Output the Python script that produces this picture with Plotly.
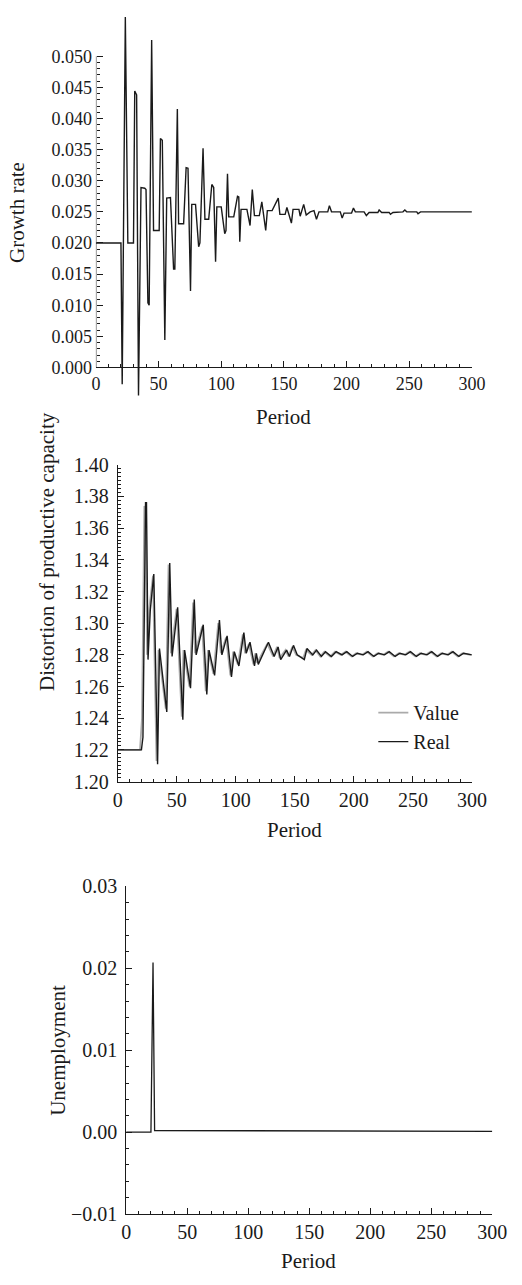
import plotly.graph_objects as go

W, H = 522, 1285
FONT = "Liberation Serif"
INK = "#1a1a1a"

# ---------------- data ----------------
growth_period = [0, 20, 21, 23.5, 25.5, 30, 31, 32.5, 34, 36, 39, 40, 41.5, 42.5, 44.5, 46, 50.5, 51.5, 53, 55,
                 56.5, 59.5, 62, 63, 65, 66, 70, 72, 73.5, 75.5, 76.5, 79.5, 82, 83, 85.5, 87, 90, 92.5, 94,
                 95.5, 96.5, 100, 102.8, 103.8, 105, 106, 110, 113, 114, 114.8, 115.8, 120.5, 123, 124.8,
                 126.5, 130.4, 132.4, 135.5, 136.8, 140.6, 145.5, 146.8, 151, 152.4, 156, 157.3, 162, 163,
                 165.8, 167.8, 171, 174, 176, 178, 185, 186.3, 188, 195, 196.5, 198, 204, 205.5, 207, 214,
                 215.8, 218, 225, 226, 228, 234, 235, 237, 245, 246.5, 248, 256, 257, 259, 300]
growth_rate = [0.020, 0.020, -0.0027, 0.0563, 0.020, 0.020, 0.0444, 0.0438, -0.0045, 0.0289, 0.0288, 0.0286,
               0.0104, 0.0100, 0.0526, 0.0220, 0.0220, 0.0368, 0.0365, 0.0044, 0.0272, 0.0273, 0.0158,
               0.0158, 0.0415, 0.0231, 0.0231, 0.0321, 0.0320, 0.0123, 0.0262, 0.0262, 0.0194, 0.0200,
               0.0352, 0.0238, 0.0238, 0.0294, 0.0289, 0.0170, 0.0258, 0.0258, 0.0215, 0.0220, 0.0311,
               0.0242, 0.0242, 0.0275, 0.0274, 0.0202, 0.0254, 0.0254, 0.0228, 0.0286, 0.0244, 0.0244,
               0.0266, 0.0220, 0.0252, 0.0252, 0.0272, 0.0246, 0.0246, 0.0257, 0.0232, 0.0254, 0.0254,
               0.0243, 0.0262, 0.0245, 0.0250, 0.0252, 0.0238, 0.0250, 0.0250, 0.0260, 0.0250, 0.0250,
               0.0240, 0.0248, 0.0248, 0.0256, 0.0250, 0.0250, 0.0244, 0.0249, 0.0249, 0.0253, 0.0249,
               0.0249, 0.0246, 0.0249, 0.0250, 0.0253, 0.0250, 0.0250, 0.0247, 0.0250, 0.0250]

real_period = [0, 20, 21.3, 23.5, 24.3, 25.6, 27.5, 30.5, 33.7, 35.3, 41.5, 44, 46, 50.7, 55.1, 56.6, 61.6,
               64.8, 66.4, 72.4, 75.4, 77.3, 82, 86.1, 88.2, 92.6, 96.3, 98.7, 102.6, 106.8, 108.8, 112,
               115.8, 117.4, 119, 127.6, 132.5, 135.8, 138, 143, 145.5, 148.8, 152, 158, 160.3, 165.2,
               168.4, 172.5, 176, 181, 185, 190, 194, 199, 203, 208, 212, 217, 221, 226, 230, 235, 239,
               244, 248, 253, 257, 262, 266, 271, 275, 280, 284, 289, 293, 300]
real_distortion = [1.220, 1.220, 1.228, 1.376, 1.376, 1.277, 1.308, 1.331, 1.211, 1.284, 1.244, 1.338, 1.279,
                   1.310, 1.239, 1.283, 1.259, 1.315, 1.280, 1.299, 1.255, 1.283, 1.267, 1.302, 1.280,
                   1.292, 1.266, 1.282, 1.273, 1.294, 1.281, 1.288, 1.273, 1.281, 1.274, 1.288, 1.279,
                   1.285, 1.277, 1.283, 1.279, 1.286, 1.280, 1.277, 1.284, 1.280, 1.283, 1.279, 1.282,
                   1.279, 1.282, 1.280, 1.282, 1.279, 1.281, 1.280, 1.282, 1.279, 1.281, 1.280, 1.282,
                   1.279, 1.281, 1.280, 1.282, 1.279, 1.281, 1.280, 1.282, 1.279, 1.281, 1.280, 1.282,
                   1.279, 1.281, 1.280]

value_period = [0, 18.8, 20.5, 22.5, 23.5, 24.8, 26.8, 29.8, 32.8, 34.5, 40.6, 43, 45, 49.8, 54.2, 55.6, 60.7,
                63.8, 65.5, 71.4, 74.5, 76.4, 81, 85.1, 87.3, 91.7, 95.4, 97.8, 101.7, 105.9, 107.9, 111.1,
                114.9, 116.5, 118.1, 126.7, 131.6, 134.9, 137.1, 142.1, 144.6, 147.9, 151.1, 157.1, 159.4,
                164.3, 167.5, 171.6, 175, 180, 184, 189, 193, 198, 202, 207, 211, 216, 220, 225, 229, 234,
                238, 243, 247, 252, 256, 261, 265, 270, 274, 279, 283, 288, 292, 299]
value_distortion = [1.220, 1.220, 1.240, 1.374, 1.372, 1.280, 1.310, 1.330, 1.213, 1.283, 1.246, 1.337,
                    1.281, 1.309, 1.241, 1.283, 1.260, 1.313, 1.281, 1.298, 1.257, 1.283, 1.268, 1.300,
                    1.281, 1.291, 1.267, 1.282, 1.274, 1.293, 1.281, 1.287, 1.274, 1.281, 1.275, 1.287,
                    1.279, 1.285, 1.278, 1.283, 1.279, 1.285, 1.280, 1.278, 1.283, 1.280, 1.283, 1.279,
                    1.282, 1.279, 1.282, 1.280, 1.282, 1.279, 1.281, 1.280, 1.282, 1.279, 1.281, 1.280,
                    1.282, 1.279, 1.281, 1.280, 1.282, 1.279, 1.281, 1.280, 1.282, 1.279, 1.281, 1.280,
                    1.282, 1.279, 1.281, 1.280]

unemp_period = [0, 20.3, 22, 23.3, 300]
unemployment = [0.0, 0.0, 0.0207, 0.0002, 0.0001]

growth_ticks = [0.000, 0.005, 0.010, 0.015, 0.020, 0.025, 0.030, 0.035, 0.040, 0.045, 0.050]
distortion_ticks = [1.20, 1.22, 1.24, 1.26, 1.28, 1.30, 1.32, 1.34, 1.36, 1.38, 1.40]
unemp_ticks = [-0.01, 0.00, 0.01, 0.02, 0.03]
period_ticks = [0, 50, 100, 150, 200, 250, 300]


# ---------------- layout helpers ----------------
def xdom(p0, p1):
    return [p0 / W, p1 / W]


def ydom(lo, hi, va, pa, vb, pb):
    s = (pa - pb) / (vb - va)
    plo = pa + (va - lo) * s
    phi = pa - (hi - va) * s
    return [1 - plo / H, 1 - phi / H]


def frange(a, b, step):
    n = int(round((b - a) / step))
    return [round(a + i * step, 6) for i in range(n + 1)]


tickfont_small = dict(family=FONT, size=18, color=INK)
tickfont = dict(family=FONT, size=20, color=INK)

common_axis = dict(showgrid=False, zeroline=False, linecolor=INK, linewidth=1, ticks="inside",
                   ticklen=6, tickwidth=1, tickcolor=INK)

fig = go.Figure()

# panel 1
fig.add_trace(go.Scatter(x=growth_period, y=growth_rate, mode="lines", xaxis="x", yaxis="y",
                         line=dict(color=INK, width=1.4), showlegend=False))
# panel 2
fig.add_trace(go.Scatter(x=value_period, y=value_distortion, mode="lines", name="Value", xaxis="x2",
                         yaxis="y2", line=dict(color="#aaaaaa", width=1.8)))
fig.add_trace(go.Scatter(x=real_period, y=real_distortion, mode="lines", name="Real", xaxis="x2",
                         yaxis="y2", line=dict(color=INK, width=1.4)))
# panel 3
fig.add_trace(go.Scatter(x=unemp_period, y=unemployment, mode="lines", xaxis="x3", yaxis="y3",
                         line=dict(color=INK, width=1.3), showlegend=False))

# geometry (pixels)
g_lo, g_hi = -0.0062, 0.0572
g_dom = ydom(g_lo, g_hi, 0.0, 362.7, 0.05, 46.0)
g_zero = 1 - 362.7 / H

fig.update_layout(
    width=W, height=H, margin=dict(l=0, r=0, t=0, b=0),
    paper_bgcolor="white", plot_bgcolor="rgba(0,0,0,0)",
    font=dict(family=FONT, color=INK, size=20),
    xaxis=dict(common_axis, domain=xdom(94.5, 485.5), range=[0, 300], anchor="free", position=g_zero,
               tickvals=period_ticks, tickfont=tickfont_small,
               minor=dict(tickvals=frange(0, 300, 10), ticklen=3, ticks="inside", tickcolor=INK)),
    yaxis=dict(common_axis, domain=g_dom, range=[g_lo, g_hi], anchor="free", position=94.5 / W,
               showline=False, tickvals=growth_ticks, tickformat=".3f", tickfont=tickfont_small,
               ticklabelstandoff=4,
               minor=dict(tickvals=frange(0, 0.05, 0.001), ticklen=3, ticks="inside", tickcolor=INK)),
    xaxis2=dict(common_axis, domain=xdom(117.3, 485.5), range=[0, 300], anchor="y2",
                tickvals=period_ticks, tickfont=tickfont,
                minor=dict(tickvals=frange(0, 300, 10), ticklen=3, ticks="inside", tickcolor=INK)),
    yaxis2=dict(common_axis, domain=ydom(1.20, 1.40, 1.20, 784.0, 1.40, 461.7), range=[1.20, 1.40],
                anchor="x2", tickvals=distortion_ticks, tickformat=".2f", tickfont=tickfont,
                ticklabelstandoff=4,
                minor=dict(tickvals=frange(1.20, 1.40, 0.0025), ticklen=3, ticks="inside", tickcolor=INK)),
    xaxis3=dict(common_axis, domain=xdom(126.0, 506.7), range=[0, 300], anchor="y3",
                tickvals=period_ticks, tickfont=tickfont,
                minor=dict(tickvals=frange(0, 300, 10), ticklen=3, ticks="inside", tickcolor=INK)),
    yaxis3=dict(common_axis, domain=ydom(-0.01, 0.03, -0.01, 1224.0, 0.03, 890.7), range=[-0.01, 0.03],
                anchor="x3", tickvals=unemp_ticks, tickformat=".2f", tickfont=tickfont,
                ticklabelstandoff=4,
                minor=dict(tickvals=frange(-0.01, 0.03, 0.002), ticklen=3, ticks="inside", tickcolor=INK)),
    legend=dict(x=383 / W, xanchor="left", y=1 - 694 / H, yanchor="top", bgcolor="rgba(0,0,0,0)",
                font=dict(family=FONT, size=20, color=INK), borderwidth=0, tracegroupgap=0),
    shapes=[dict(type="line", xref="x", yref="y", x0=0, x1=0, y0=0, y1=0.05,
                 line=dict(color=INK, width=1))],
)

annots = [
    ("Growth rate", 13, 205, -90),
    ("Period", 290, 413, 0),
    ("Distortion of productive capacity", 43, 550, -90),
    ("Period", 301, 833, 0),
    ("Unemployment", 55, 1057, -90),
    ("Period", 316, 1272, 0),
]
for text, px, py, ang in annots:
    fig.add_annotation(text=text, x=px / W, y=1 - py / H, xref="paper", yref="paper",
                       showarrow=False, textangle=ang, xanchor="center", yanchor="middle",
                       font=dict(family=FONT, size=21, color=INK))

fig.write_html("out.html")
